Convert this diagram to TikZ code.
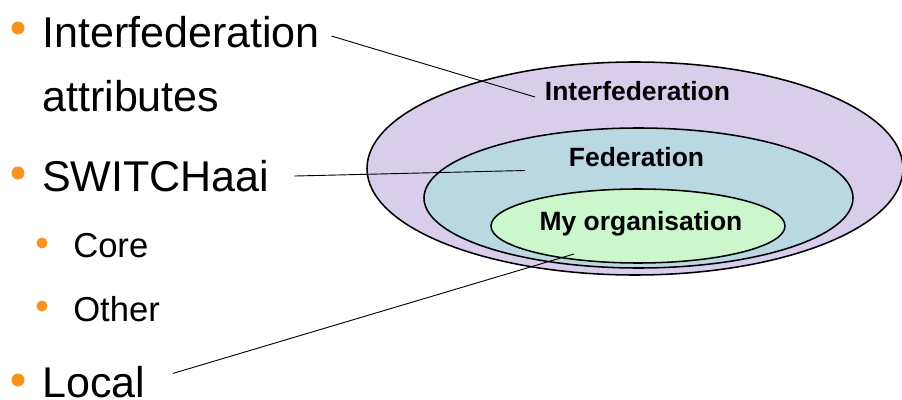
\documentclass[tikz,border=0pt]{standalone}
\usepackage{fontspec}
\setmainfont{Liberation Sans}
\usetikzlibrary{positioning}
\definecolor{puce}{HTML}{F7931E}
\definecolor{lavande}{HTML}{D9CDEC}
\definecolor{bleuclair}{HTML}{B9D8E2}
\definecolor{vertclair}{HTML}{CCF7CC}
\tikzset{
    grand/.style={anchor=base west, inner sep=0pt, font=\fontsize{30.6}{36}\selectfont},
    petit/.style={anchor=base west, inner sep=0pt, font=\fontsize{24.6}{30}\selectfont},
    zone/.style={anchor=base, inner sep=0pt, font=\bfseries\fontsize{18.8}{22}\selectfont},
    bord/.style={draw=black, line width=1.1pt},
    trait/.style={draw=black, line width=0.65pt},
}

\begin{document}
\begin{tikzpicture}[x=0.025cm, y=-0.025cm]
\useasboundingbox (0,0) rectangle (902,400);
% ellipses
\draw[bord, fill=lavande] (635,168.5) ellipse [x radius=268, y radius=106.5];
\draw[bord, fill=bleuclair] (638.5,198) ellipse [x radius=214.5, y radius=70];
\draw[bord, fill=vertclair] (638,226) ellipse [x radius=147, y radius=37];
\node[zone] (interfed) at (637.5,101) {Interfederation};
\node[zone] (fed) at (636.5,167) {Federation};
\node[zone] (org) at (641,231) {My organisation};
% liste
\node[grand] (l1) at (42,48) {Interfederation};
\node[grand] (l1b) at (42,112) {attributes};
\node[grand] (l2) at (42,192) {SWITCHaai};
\node[petit] (l21) at (73,258) {Core};
\node[petit] (l22) at (73,321) {Other};
\node[grand] (l3) at (42,397) {Local};
\foreach \y in {28, 173, 380} {
    \fill[puce] (18,\y) circle [radius=6.5];
}
\foreach \y in {243, 306} {
    \fill[puce] (42,\y) circle [radius=5.5];
}
% connecteurs
\coordinate (c1) at (535,97);
\coordinate (c2) at (525,170.5);
\coordinate (c3) at (574,254);
\draw[trait, shorten <=0.3cm] (l1.east) -- (c1);
\draw[trait, shorten <=0.62cm] (l2.east) -- (c2);
\draw[trait, shorten <=0.72cm] (l3.east) -- (c3);
\end{tikzpicture}
\end{document}
